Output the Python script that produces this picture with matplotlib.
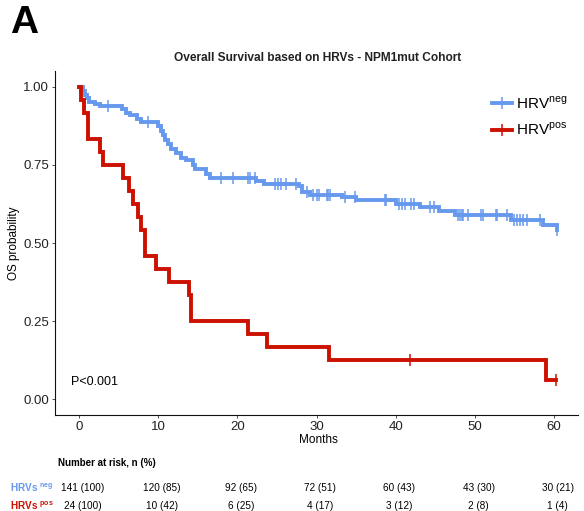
import numpy as np
import matplotlib
matplotlib.use("Agg")
import matplotlib.pyplot as plt
from matplotlib.transforms import blended_transform_factory
from matplotlib.lines import Line2D

plt.rcParams['font.family'] = ['Liberation Sans', 'DejaVu Sans']
plt.rcParams['mathtext.fontset'] = 'custom'
plt.rcParams['mathtext.rm'] = 'Liberation Sans'
plt.rcParams['mathtext.bf'] = 'Liberation Sans:bold'

# ---------------- data ----------------
neg_event_times = [0.5, 0.8, 1.0, 1.3, 2.0, 2.7, 5.4, 5.9, 6.5, 7.3, 7.9, 10.0, 10.4,
                   10.6, 10.9, 11.2, 11.6, 12.3, 12.9, 13.5, 14.4, 14.7, 16.0, 16.5,
                   22.4, 23.4, 27.8, 28.2, 29.2, 33.2, 35.0, 40.0, 43.1, 45.4, 47.5,
                   54.5, 58.6, 60.3]
neg_surv = [0.986, 0.972, 0.965, 0.951, 0.944, 0.937, 0.930, 0.916, 0.909, 0.895,
            0.888, 0.873, 0.859, 0.845, 0.830, 0.816, 0.801, 0.787, 0.772, 0.765,
            0.751, 0.736, 0.722, 0.707, 0.699, 0.690, 0.681, 0.664, 0.654, 0.646,
            0.636, 0.625, 0.614, 0.602, 0.589, 0.574, 0.557, 0.540]
neg_censor_times = [3.7, 8.7, 18.0, 19.4, 21.3, 21.6, 22.2, 24.7, 25.1, 25.5, 26.1,
                    27.4, 28.8, 29.6, 30.1, 30.3, 31.3, 31.5, 31.7, 33.6, 34.8, 38.6,
                    38.8, 40.4, 40.8, 41.2, 41.9, 42.3, 44.3, 44.8, 47.9, 48.1, 48.3,
                    48.5, 49.1, 50.8, 51.0, 52.6, 52.8, 54.1, 54.9, 55.3, 55.7, 56.1,
                    56.6, 58.2, 60.3]
neg_end_time = 60.3

pos_event_times = [0.25, 0.7, 1.2, 2.7, 3.0, 5.6, 6.4, 6.8, 7.5, 7.9, 8.3, 9.8, 11.4,
                   13.9, 14.1, 21.3, 23.7, 31.6, 58.9]
pos_surv = [0.958, 0.917, 0.833, 0.792, 0.750, 0.708, 0.667, 0.625, 0.583, 0.542,
            0.458, 0.417, 0.375, 0.333, 0.250, 0.208, 0.167, 0.125, 0.0625]
pos_censor_times = [41.8, 60.2]
pos_end_time = 60.2

risk_times = [0, 10, 20, 30, 40, 50, 60]
risk_neg = ["141 (100)", "120 (85)", "92 (65)", "72 (51)", "60 (43)", "43 (30)", "30 (21)"]
risk_pos = ["24 (100)", "10 (42)", "6 (25)", "4 (17)", "3 (12)", "2 (8)", "1 (4)"]

y_ticks = [0.00, 0.25, 0.50, 0.75, 1.00]
x_ticks = [0, 10, 20, 30, 40, 50, 60]

BLUE = "#6699EE"
RED = "#CC1100"

# ---------------- helpers ----------------
def step_curve(times, surv, end):
    t = np.concatenate([[0.0], times, [end]])
    s = np.concatenate([[1.0], surv, [surv[-1]]])
    return t, s

def surv_at(times, surv, x):
    idx = np.searchsorted(times, x, side='right') - 1
    return 1.0 if idx < 0 else surv[idx]

W, H = 584, 511
fig = plt.figure(figsize=(W / 100, H / 100), dpi=100)
ax = fig.add_axes([55 / W, 1 - 415 / H, 523 / W, 344 / H])

for times, surv, cens, end, col in [
        (neg_event_times, neg_surv, neg_censor_times, neg_end_time, BLUE),
        (pos_event_times, pos_surv, pos_censor_times, pos_end_time, RED)]:
    t, s = step_curve(times, surv, end)
    ax.step(t, s, where='post', color=col, lw=2.8, solid_joinstyle='miter')
    cy = [surv_at(times, surv, c) for c in cens]
    ax.plot(cens, cy, ls='none', marker='|', ms=9, mew=1.1, color=col)

ax.set_xlim(-3, 63)
ax.set_ylim(-0.05, 1.05)
ax.set_xticks(x_ticks)
ax.set_xticklabels([str(v) for v in x_ticks])
ax.set_yticks(y_ticks)
ax.set_yticklabels([f"{v:.2f}" for v in y_ticks])
ax.tick_params(axis='both', labelsize=9.5, length=2.5, width=0.6, color='#333333',
               labelcolor='#222222', pad=2)
for sp in ['top', 'right']:
    ax.spines[sp].set_visible(False)
for sp in ['left', 'bottom']:
    ax.spines[sp].set_linewidth(0.8)
    ax.spines[sp].set_color('#111111')

ax.text(-1.0, 0.055, "P<0.001", fontsize=9, va='center', ha='left')

# legend
handles = [Line2D([], [], color=BLUE, lw=2.8, marker='|', ms=9, mew=1.1),
           Line2D([], [], color=RED, lw=2.8, marker='|', ms=9, mew=1.1)]
ax.legend(handles, ["HRV$^{\\mathrm{neg}}$", "HRV$^{\\mathrm{pos}}$"],
          loc='upper left', bbox_to_anchor=(0.835, 0.93), frameon=False,
          fontsize=11, handlelength=1.3, handletextpad=0.3, labelspacing=0.62,
          borderpad=0, borderaxespad=0)

# titles and labels
fig.text(318 / W, 1 - 58 / H, "Overall Survival based on HRVs - NPM1mut Cohort",
         ha='center', va='center', fontsize=8.6, fontweight='bold', color='#222222')
fig.text(10 / W, 1 - 23 / H, "A", fontsize=28, fontweight='bold', va='center', ha='left')
fig.text(318 / W, 1 - 440 / H, "Months", ha='center', va='center', fontsize=8.5)
fig.text(14 / W, 1 - 243 / H, "OS probability", rotation=90, ha='center', va='center',
         fontsize=8.5)

# risk table
fig.text(58 / W, 1 - 463 / H, "Number at risk, n (%)", fontsize=7.0, fontweight='bold',
         va='center', ha='left')
fig.text(10 / W, 1 - 488 / H, "HRVs $^{\\mathbf{neg}}$", fontsize=7.2, fontweight='bold',
         color=BLUE, va='center', ha='left')
fig.text(10 / W, 1 - 506 / H, "HRVs $^{\\mathbf{pos}}$", fontsize=7.2, fontweight='bold',
         color=RED, va='center', ha='left')
tr = blended_transform_factory(ax.transData, fig.transFigure)
for t, a, b in zip(risk_times, risk_neg, risk_pos):
    ax.text(t + 0.45, 1 - 488 / H, a, transform=tr, ha='center', va='center', fontsize=7.2)
    ax.text(t + 0.45, 1 - 506 / H, b, transform=tr, ha='center', va='center', fontsize=7.2)

fig.savefig("out.png", dpi=100)
